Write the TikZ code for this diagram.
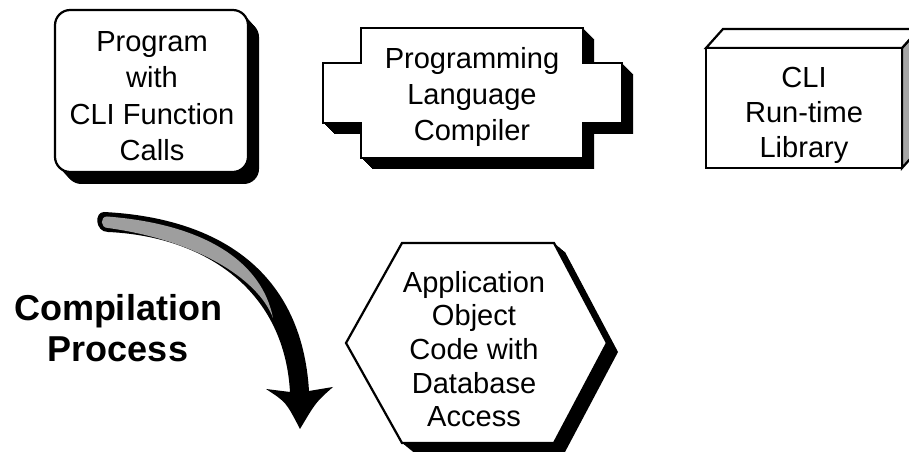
\documentclass[tikz,border=0pt]{standalone}
\usepackage{fontspec}
\setmainfont{Liberation Sans}
\begin{document}
\begin{tikzpicture}[x=0.01in,y=-0.01in,line join=miter,
  outl/.style={draw=black,line width=1.6pt,fill=white},
  shade/.style={fill=black},
  txt/.style={align=center,inner sep=0pt,font=\fontsize{21}{26}\selectfont}]
\useasboundingbox (0,0) rectangle (909,455);
% ---- box 1: rounded box with extruded shadow
\foreach \d in {1,...,12}{
  \fill[shade,shift={(\d*0.92,\d)},rounded corners=11pt] (55,10) rectangle (248,172);}
\draw[outl,rounded corners=11pt] (55,10) rectangle (248,172);
\node[txt,font=\fontsize{21}{26.4}\selectfont] (prog) at (152,96) {Program\\with\\CLI Function\\Calls};
% ---- box 2: compiler with tabs
\foreach \d in {1,...,11}{
  \fill[shade,shift={(\d,\d)}] (361,28) -- (583,28) -- (583,63) -- (622,63) -- (622,123) -- (583,123) -- (583,158) -- (361,158) -- (361,123) -- (323,123) -- (323,63) -- (361,63) -- cycle;}
\draw[outl] (361,28) -- (583,28) -- (583,63) -- (622,63) -- (622,123) -- (583,123) -- (583,158) -- (361,158) -- (361,123) -- (323,123) -- (323,63) -- (361,63) -- cycle;
\node[txt] (comp) at (472,97) {Programming\\Language\\Compiler};
% ---- box 3: 3D block
\draw[outl,fill=black!35] (902,48) -- (919,29) -- (919,149) -- (902,168) -- cycle;
\draw[outl] (706,48) -- (723,29) -- (919,29) -- (902,48) -- cycle;
\draw[outl] (706,48) rectangle (902,168);
\node[txt,font=\fontsize{21}{25.2}\selectfont] (lib) at (804,115) {CLI\\Run-time\\Library};
% ---- hexagon
\foreach \d in {1,...,10}{
  \fill[shade,shift={(\d*1.1,\d*0.9)}] (402,243) -- (554,243) -- (607,343) -- (554,443) -- (402,443) -- (346,343) -- cycle;}
\draw[outl] (402,243) -- (554,243) -- (607,343) -- (554,443) -- (402,443) -- (346,343) -- cycle;
\node[txt,font=\fontsize{21}{24.3}\selectfont] (app) at (474,349) {Application\\Object\\Code with\\Database\\Access};
% ---- curved arrow
\fill[black] (104,212) .. controls (222,218) and (302,274) .. (309,391)
  -- (333,387) .. controls (316,402) .. (300,429) .. controls (286,402) .. (266,389)
  -- (290,392) .. controls (284,286) and (200,236) .. (108,232)
  .. controls (95,232) and (94,212) .. (104,212) -- cycle;
\fill[black!38] (107,216.5) .. controls (205,224) and (262,262) .. (273,318)
  .. controls (258,278) and (195,240) .. (108,228)
  .. controls (100,228) and (100,216.5) .. (107,216.5) -- cycle;
\node[align=center,inner sep=0pt,font=\bfseries\fontsize{26}{29.5}\selectfont] (cp) at (118,328) {Compilation\\Process};
\end{tikzpicture}
\end{document}
